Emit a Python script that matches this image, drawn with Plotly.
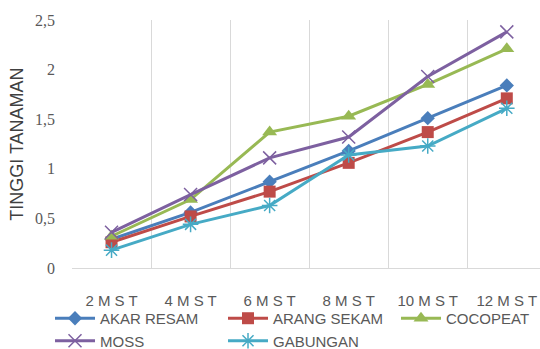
import plotly.graph_objects as go

categories = ["2 M S T", "4 M S T", "6 M S T", "8 M S T", "10 M S T", "12 M S T"]
akar_resam = [0.29, 0.56, 0.87, 1.18, 1.51, 1.84]
arang_sekam = [0.26, 0.52, 0.77, 1.06, 1.37, 1.71]
cocopeat = [0.32, 0.69, 1.37, 1.53, 1.85, 2.21]
moss = [0.36, 0.74, 1.11, 1.32, 1.93, 2.38]
gabungan = [0.18, 0.44, 0.63, 1.14, 1.23, 1.61]
y_tickvals = [0, 0.5, 1, 1.5, 2, 2.5]
y_ticktext = ["0", "0,5", "1", "1,5", "2", "2,5"]
y_title = "TINGGI TANAMAN"

series = [
    ("AKAR RESAM", akar_resam, "#4A7EBB", "diamond", 11, 0),
    ("ARANG SEKAM", arang_sekam, "#BE4B48", "square", 12, 0),
    ("COCOPEAT", cocopeat, "#98B954", "triangle-up", 13, 0),
    ("MOSS", moss, "#7D60A0", "x-thin-open", 13, 1.5),
    ("GABUNGAN", gabungan, "#46AAC5", "asterisk-open", 13, 1.5),
]

fig = go.Figure()
for name, vals, color, sym, size, lw in series:
    marker = dict(symbol=sym, size=size, color=color)
    if lw:
        marker["line"] = dict(color=color, width=lw)
    fig.add_trace(go.Scatter(
        x=categories, y=vals, name=name, mode="lines+markers",
        line=dict(color=color, width=3), marker=marker,
    ))

fig.add_annotation(
    text=y_title, textangle=-90, xref="paper", yref="paper",
    x=-0.118, y=0.5, xanchor="center", yanchor="middle", showarrow=False,
    font=dict(family="Liberation Sans Narrow, Liberation Sans", size=18, color="#404040"),
)

fig.update_layout(
    width=540, height=349,
    margin=dict(l=72, r=0, t=20, b=81, autoexpand=False),
    paper_bgcolor="white", plot_bgcolor="white",
    showlegend=True,
    legend=dict(
        orientation="h", x=-0.047, xanchor="left",
        y=-0.137, yanchor="top",
        entrywidth=118, entrywidthmode="pixels",
        font=dict(family="Liberation Sans", size=15, color="#595959"),
        bgcolor="rgba(0,0,0,0)", traceorder="normal",
        itemwidth=40,
    ),
    xaxis=dict(
        type="category", range=[-0.5, 5.42],
        showgrid=True, gridcolor="#D9D9D9", gridwidth=1,
        tickson="boundaries", ticks="",
        showline=True, linecolor="#D9D9D9", linewidth=1,
        tickfont=dict(family="Liberation Sans", size=15, color="#595959"),
        ticklabelstandoff=19,
        zeroline=False,
    ),
    yaxis=dict(
        range=[0, 2.5], tickvals=y_tickvals, ticktext=y_ticktext,
        showgrid=False, zeroline=False, showline=False, ticks="",
        tickfont=dict(family="Liberation Serif", size=16, color="#595959"),
        ticklabelstandoff=16,
    ),
)

fig.write_html("out.html")
